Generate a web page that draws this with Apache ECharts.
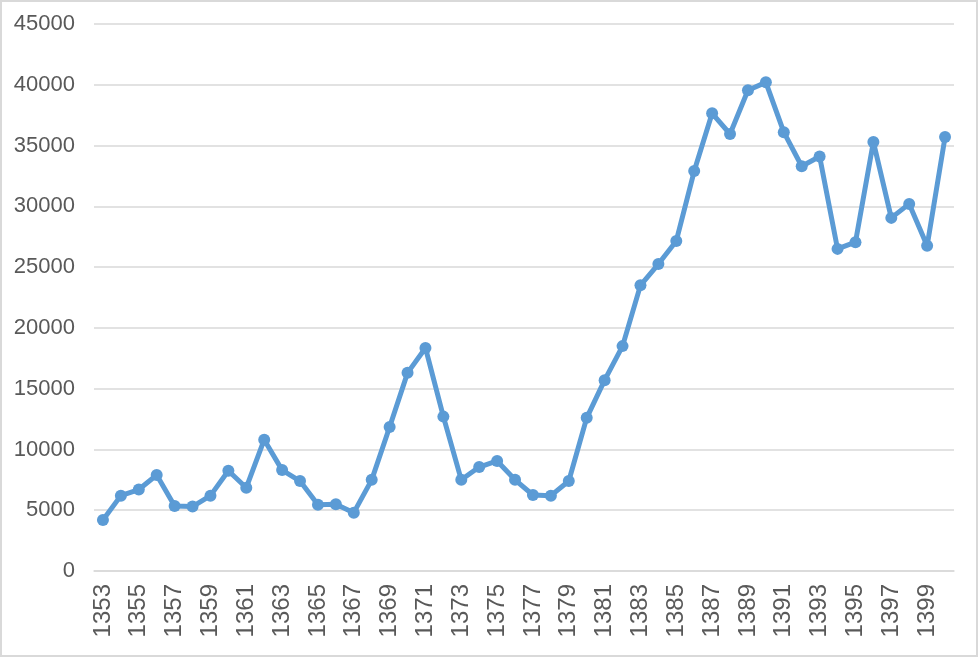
<!DOCTYPE html>
<html>
<head>
<meta charset="utf-8">
<script src="https://cdn.jsdelivr.net/npm/echarts@6/dist/echarts.min.js"></script>
<style>
html,body{margin:0;padding:0;background:#fff;}
#c{width:978px;height:657px;}
</style>
</head>
<body>
<div id="c"></div>
<script>
const years = [];
for (let y = 1353; y <= 1400; y++) years.push(String(y));
const values = [
  4200, 6200, 6700, 7900, 5350, 5300, 6200, 8250, 6850, 10800,
  8300, 7400, 5450, 5500, 4800, 7500, 11850, 16300, 18350, 12700,
  7500, 8550, 9050, 7500, 6250, 6200, 7400, 12600, 15700, 18500,
  23500, 25250, 27150, 32900, 37650, 35950, 39550, 40200, 36100, 33300,
  34100, 26500, 27050, 35300, 29050, 30200, 26750, 35700
];
const yTicks = { min: 0, max: 45000, interval: 5000 };

const chart = echarts.init(document.getElementById('c'), null, { renderer: 'canvas' });
chart.setOption({
  animation: false,
  backgroundColor: '#ffffff',
  graphic: [{
    type: 'rect',
    shape: { x: 1, y: 1, width: 976, height: 655 },
    style: { fill: 'none', stroke: '#d9d9d9', lineWidth: 2 },
    silent: true
  }],
  grid: { left: 94, right: 24, top: 24, bottom: 86, containLabel: false },
  xAxis: {
    type: 'category',
    data: years,
    boundaryGap: true,
    axisLine: { show: true, lineStyle: { color: '#d9d9d9', width: 1.5 } },
    axisTick: { show: false },
    axisLabel: {
      interval: 1,
      rotate: 90,
      color: '#595959',
      fontFamily: 'Liberation Sans, Arial, sans-serif',
      fontSize: 24,
      margin: 13
    },
    splitLine: { show: false }
  },
  yAxis: {
    type: 'value',
    min: yTicks.min,
    max: yTicks.max,
    interval: yTicks.interval,
    axisLine: { show: false },
    axisTick: { show: false },
    axisLabel: {
      color: '#595959',
      fontFamily: 'Liberation Sans, Arial, sans-serif',
      fontSize: 22,
      margin: 19,
      formatter: function (v) { return String(v); }
    },
    splitLine: { show: true, lineStyle: { color: '#d9d9d9', width: 1.5 } }
  },
  series: [{
    type: 'line',
    data: values,
    symbol: 'circle',
    symbolSize: 12,
    showAllSymbol: true,
    itemStyle: { color: '#5b9bd5' },
    lineStyle: { color: '#5b9bd5', width: 5 }
  }]
});
</script>
</body>
</html>
